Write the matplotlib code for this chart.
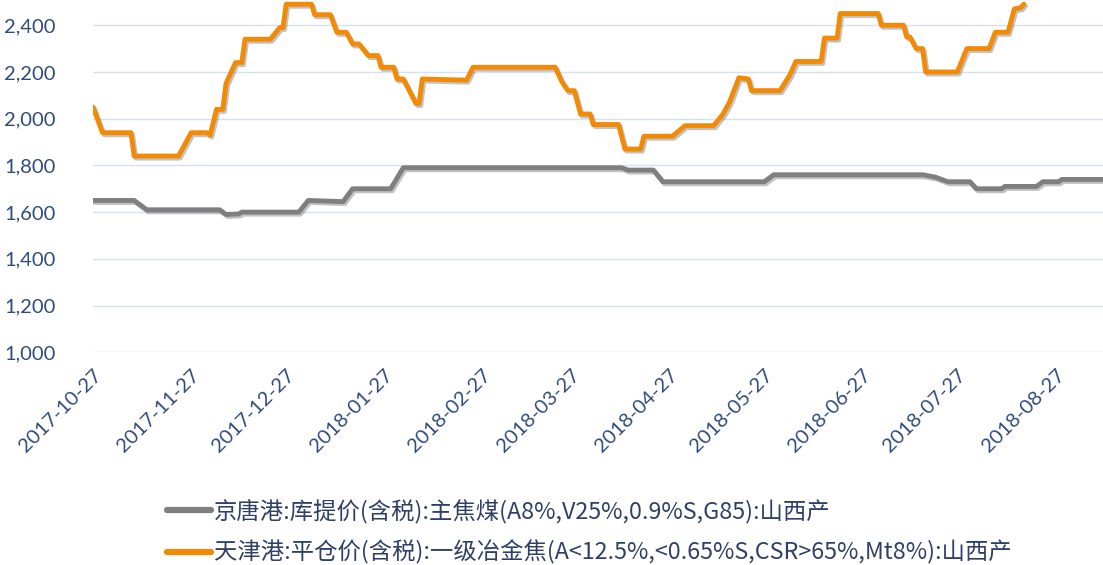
import matplotlib
matplotlib.use("Agg")
import matplotlib.pyplot as plt
import matplotlib.patheffects as pe
import pandas as pd

# ---- data ----
coke_dates = ["2017-10-27", "2017-10-30", "2017-11-08", "2017-11-09", "2017-11-23", "2017-11-27",
              "2017-12-02", "2017-12-03", "2017-12-05", "2017-12-07", "2017-12-08", "2017-12-11",
              "2017-12-13", "2017-12-14", "2017-12-22", "2017-12-25", "2017-12-26", "2017-12-27",
              "2018-01-04", "2018-01-05", "2018-01-10", "2018-01-12", "2018-01-15", "2018-01-17",
              "2018-01-19", "2018-01-22", "2018-01-25", "2018-01-26", "2018-01-30", "2018-01-31",
              "2018-02-02", "2018-02-06", "2018-02-07", "2018-02-08", "2018-02-22", "2018-02-24",
              "2018-03-22", "2018-03-24", "2018-03-26", "2018-03-28", "2018-03-30", "2018-04-02",
              "2018-04-03", "2018-04-11", "2018-04-13", "2018-04-18", "2018-04-19", "2018-04-28",
              "2018-05-02", "2018-05-11", "2018-05-14", "2018-05-16", "2018-05-19", "2018-05-22",
              "2018-05-23", "2018-06-01", "2018-06-04", "2018-06-06", "2018-06-14", "2018-06-15",
              "2018-06-19", "2018-06-20", "2018-07-02", "2018-07-03", "2018-07-10", "2018-07-11",
              "2018-07-12", "2018-07-14", "2018-07-16", "2018-07-17", "2018-07-27", "2018-07-30",
              "2018-08-06", "2018-08-08", "2018-08-12", "2018-08-14", "2018-08-16", "2018-08-17"]
coke_values = [2050, 1940, 1940, 1840, 1840, 1940,
               1940, 1930, 2040, 2040, 2150, 2240,
               2240, 2340, 2340, 2390, 2390, 2490,
               2490, 2445, 2445, 2370, 2370, 2320,
               2320, 2270, 2270, 2220, 2220, 2170,
               2170, 2065, 2065, 2170, 2165, 2220,
               2220, 2160, 2120, 2120, 2020, 2020,
               1975, 1975, 1870, 1870, 1925, 1925,
               1970, 1970, 2020, 2070, 2175, 2170,
               2120, 2120, 2185, 2245, 2245, 2345,
               2345, 2450, 2450, 2400, 2400, 2350,
               2350, 2300, 2300, 2200, 2200, 2300,
               2300, 2370, 2370, 2470, 2475, 2490]

coal_dates = ["2017-10-27", "2017-11-09", "2017-11-13", "2017-12-06", "2017-12-08", "2017-12-12",
              "2017-12-13", "2017-12-31", "2018-01-03", "2018-01-14", "2018-01-17", "2018-01-29",
              "2018-02-02", "2018-04-12", "2018-04-14", "2018-04-22", "2018-04-25", "2018-05-27",
              "2018-05-30", "2018-07-16", "2018-07-20", "2018-07-24", "2018-07-31", "2018-08-02",
              "2018-08-10", "2018-08-11", "2018-08-21", "2018-08-23", "2018-08-28", "2018-08-29",
              "2018-09-11"]
coal_values = [1650, 1650, 1610, 1610, 1590, 1592,
               1600, 1600, 1650, 1645, 1700, 1700,
               1790, 1790, 1780, 1780, 1730, 1730,
               1760, 1760, 1750, 1730, 1730, 1700,
               1700, 1710, 1710, 1730, 1730, 1740,
               1740]

coal_label = "京唐港:库提价(含税):主焦煤(A8%,V25%,0.9%S,G85):山西产"
coke_label = "天津港:平仓价(含税):一级冶金焦(A<12.5%,<0.65%S,CSR>65%,Mt8%):山西产"

tick_dates = ["2017-10-27", "2017-11-27", "2017-12-27", "2018-01-27", "2018-02-27", "2018-03-27",
              "2018-04-27", "2018-05-27", "2018-06-27", "2018-07-27", "2018-08-27"]
y_ticks = [1000, 1200, 1400, 1600, 1800, 2000, 2200, 2400]

# ---- figure ----
fig = plt.figure(figsize=(11.03, 5.65), dpi=100)
ax = fig.add_axes([93 / 1103, (565 - 352.3) / 565, 1 - 93 / 1103, 352.3 / 565])

shadow = [pe.SimpleLineShadow(offset=(1.2, -1.5), shadow_color="#555555", alpha=0.35), pe.Normal()]

l1, = ax.plot(pd.to_datetime(coal_dates), coal_values, color="#7f7f7f", lw=3.5,
              solid_joinstyle="round", solid_capstyle="round", path_effects=shadow, zorder=3)
l2, = ax.plot(pd.to_datetime(coke_dates), coke_values, color="#f28a06", lw=3.5,
              solid_joinstyle="round", solid_capstyle="round", path_effects=shadow, zorder=4)

ax.set_xlim(pd.Timestamp("2017-10-27"), pd.Timestamp("2018-09-11"))
ax.set_ylim(1000, 2508)
ax.set_yticks(y_ticks)
ax.yaxis.set_major_formatter(matplotlib.ticker.FuncFormatter(lambda v, p: f"{int(v):,}"))
ax.set_xticks(pd.to_datetime(tick_dates))
ax.set_xticklabels(tick_dates)
ax.grid(axis="y", color="#d6e2f2", lw=1.0)
ax.set_axisbelow(True)
for s in ax.spines.values():
    s.set_visible(False)
ax.tick_params(axis="both", length=0)
ax.tick_params(axis="y", pad=27, labelsize=14.5, labelcolor="#2f4b7c")
ax.tick_params(axis="x", pad=10, labelsize=14.5, labelcolor="#2f4b7c")
for t in ax.get_yticklabels():
    t.set_fontfamily(["Lato", "DejaVu Sans"])
for t in ax.get_xticklabels():
    t.set_fontfamily(["Lato", "DejaVu Sans"])
    t.set_rotation(45)
    t.set_ha("right")
    t.set_rotation_mode("anchor")

leg = fig.legend([l1, l2], [coal_label, coke_label], loc="upper left",
                 bbox_to_anchor=(146 / 1103, 1 - 478 / 565), frameon=False,
                 handlelength=1.9, handletextpad=0.12, labelspacing=0.72,
                 prop={"family": ["Noto Sans CJK SC", "DejaVu Sans"], "size": 16.8})
for t in leg.get_texts():
    t.set_color("#2f3f66")
for h in leg.legend_handles:
    h.set_path_effects([])
    h.set_linewidth(4.5)

fig.savefig("out.png", dpi=100)
